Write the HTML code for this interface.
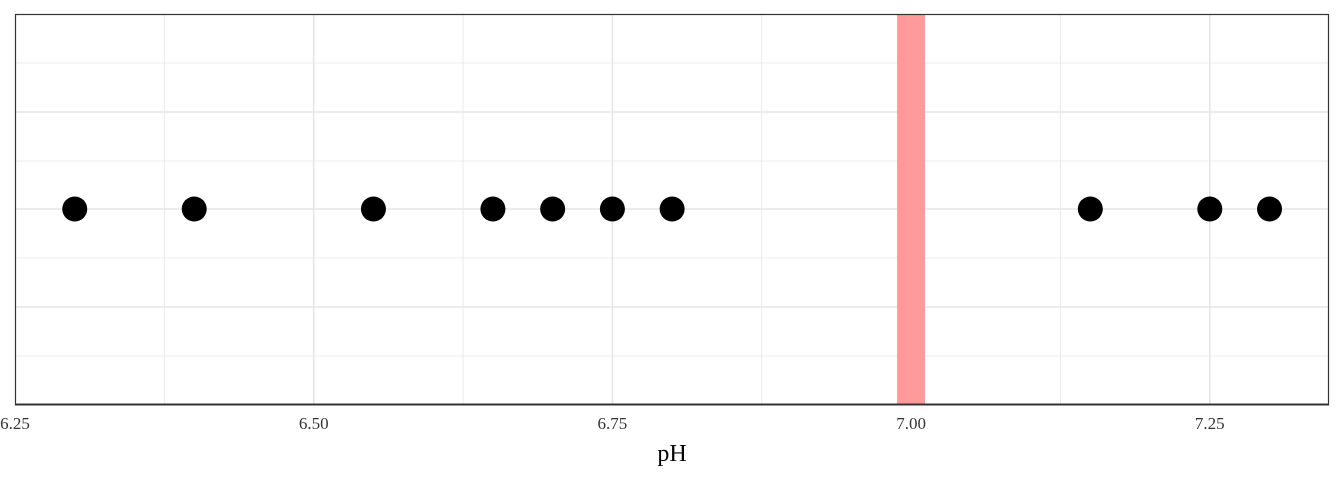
<!DOCTYPE html>
<html><head><meta charset="utf-8"><style>
body{margin:0;background:#fff;}
svg{display:block;font-family:"Liberation Serif",serif;}
</style></head><body>
<svg id="chart" width="1344" height="480">
<g id="grid"></g>
<rect x="897" y="14" width="28" height="390" fill="#ff9a9a" id="band"/>
<g id="pts"></g>
<rect x="15.5" y="14.5" width="1313" height="390" fill="none" stroke="#333" stroke-width="1.2"/>
<line x1="15" x2="1329" y1="404.5" y2="404.5" stroke="#333" stroke-width="2"/>
<g id="ticks"></g>
<text x="672" y="461" font-size="24" text-anchor="middle" fill="#000">pH</text>
</svg>
<script>
const phValues=[6.30,6.40,6.55,6.65,6.70,6.75,6.80,7.15,7.25,7.30];
const tickValues=[6.25,6.50,6.75,7.00,7.25];
const tickLabels=["6.25","6.50","6.75","7.00","7.25"];
const neutralPH=7.00;
const NS="http://www.w3.org/2000/svg";
const x0=15,x1=1328,y0=14,y1=404;
function sx(v){return 15+(v-6.25)*1194.8;}
function mk(t,a,p){const e=document.createElementNS(NS,t);for(const k in a)e.setAttribute(k,a[k]);p.appendChild(e);return e;}
const grid=document.getElementById('grid');
const hy=[63,112,161,209,258,307,356];
hy.forEach((y,i)=>{const l=mk('line',{x1:x0,x2:x1,y1:y,y2:y,stroke:'#e6e6e6','stroke-width':i%2?1.6:0.8},grid);

});
for(let v=6.375;v<7.4;v+=0.125){const x=sx(v);if(x>x1)break;
const major=Math.abs((v/0.25)-Math.round(v/0.25))<1e-6;
const l=mk('line',{x1:x,x2:x,y1:y0,y2:y1,stroke:'#e6e6e6','stroke-width':major?1.6:0.8},grid);

}
const band=document.getElementById('band');
band.setAttribute('x',sx(neutralPH)-14);
const ticks=document.getElementById('ticks');
tickValues.forEach((v,i)=>{const x=sx(v);
const t=mk('text',{x:x,y:429,'font-size':17,'text-anchor':'middle',fill:'#333'},ticks);t.textContent=tickLabels[i];

});
const pts=document.getElementById('pts');
phValues.forEach(v=>{const c=mk('circle',{cx:sx(v),cy:209,r:12.5,fill:'#000'},pts);

});
</script>
</body></html>
